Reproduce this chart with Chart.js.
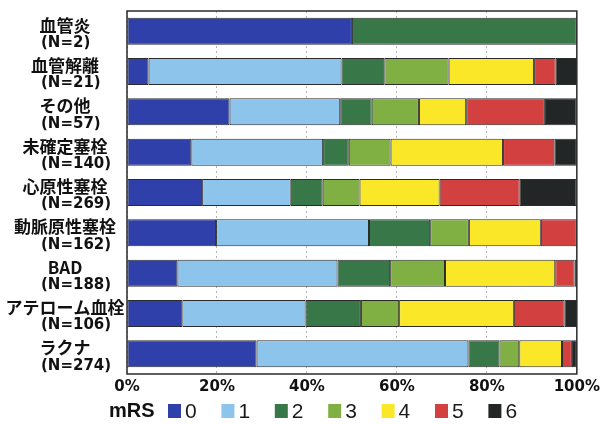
<!DOCTYPE html>
<html lang="ja">
<head>
<meta charset="utf-8">
<title>mRS 分布（病型別）</title>
<script src="https://cdn.jsdelivr.net/npm/chart.js@4/dist/chart.umd.min.js"></script>
<style>
  html, body { margin: 0; padding: 0; background: #ffffff; }
  #wrap { width: 604px; height: 424px; }
</style>
</head>
<body>
<div id="wrap"><canvas id="chart" width="604" height="424"></canvas></div>
<script>
// 病型（上から順に）
const categories = ['血管炎', '血管解離', 'その他', '未確定塞栓', '心原性塞栓', '動脈原性塞栓', 'BAD', 'アテローム血栓', 'ラクナ'];
const counts = [2, 21, 57, 140, 269, 162, 188, 106, 274];

// mRS 別の割合（%）
const mrs0 = [50.0,  4.8, 22.8, 14.3, 16.7, 19.8, 11.2, 12.3, 28.8];
const mrs1 = [ 0.0, 42.9, 24.6, 29.3, 19.7, 34.0, 35.6, 27.4, 47.1];
const mrs2 = [50.0,  9.5,  7.0,  5.7,  7.1, 13.6, 11.7, 12.3,  6.9];
const mrs3 = [ 0.0, 14.3, 10.5,  9.3,  8.2,  8.6, 12.2,  8.5,  4.4];
const mrs4 = [ 0.0, 19.0, 10.5, 25.0, 17.8, 16.0, 24.5, 25.5,  9.5];
const mrs5 = [ 0.0,  4.8, 17.5, 11.4, 17.8,  8.0,  4.3, 11.3,  2.2];
const mrs6 = [ 0.0,  4.8,  7.0,  5.0, 12.6,  0.0,  0.5,  2.8,  1.1];

const mrsLabels = ['0', '1', '2', '3', '4', '5', '6'];
const xTicks = [0, 20, 40, 60, 80, 100];

const colors = ['#2F40AB', '#8CC4EC', '#387848', '#80B044', '#FAE828', '#D24040', '#232626'];
const series = [mrs0, mrs1, mrs2, mrs3, mrs4, mrs5, mrs6];

const datasets = series.map((values, i) => ({
  label: mrsLabels[i],
  data: values,
  backgroundColor: colors[i],
  borderColor: '#2b2b2b',
  borderWidth: 1,
  borderSkipped: false,
  categoryPercentage: 1.0,
  barPercentage: 0.67
}));

const CJK = '"Noto Sans CJK JP", "Noto Sans", sans-serif';
const LATIN_BOLD = '"DejaVu Sans", Verdana, sans-serif';

// white page background
const pageBackground = {
  id: 'pageBackground',
  beforeDraw(chart) {
    const ctx = chart.ctx;
    ctx.save();
    ctx.fillStyle = '#ffffff';
    ctx.fillRect(0, 0, chart.width, chart.height);
    ctx.restore();
  }
};

// frame round the plot area
const plotFrame = {
  id: 'plotFrame',
  afterDatasetsDraw(chart) {
    const a = chart.chartArea;
    const ctx = chart.ctx;
    ctx.save();
    ctx.strokeStyle = '#2a2a2a';
    ctx.lineWidth = 1.5;
    ctx.strokeRect(a.left, a.top, a.right - a.left, a.bottom - a.top);
    ctx.restore();
  }
};

// two-line category labels: name centred, "(N=...)" below
const categoryLabels = {
  id: 'categoryLabels',
  afterDraw(chart) {
    const y = chart.scales.y;
    const ctx = chart.ctx;
    ctx.save();
    ctx.fillStyle = '#111111';
    ctx.textBaseline = 'middle';
    categories.forEach((name, i) => {
      const cy = y.getPixelForValue(i);
      ctx.font = 'bold 17px ' + CJK;
      ctx.textAlign = 'center';
      ctx.fillText(name, 65, cy - 6);
      ctx.font = 'bold 15px ' + LATIN_BOLD;
      ctx.textAlign = 'left';
      ctx.fillText('(N=' + counts[i] + ')', 41, cy + 12);
    });
    ctx.restore();
  }
};

// legend row: "mRS" followed by the seven swatches
const mrsLegend = {
  id: 'mrsLegend',
  afterDraw(chart) {
    const ctx = chart.ctx;
    const rowY = 411;
    ctx.save();
    ctx.textBaseline = 'middle';
    ctx.fillStyle = '#111111';
    ctx.font = 'bold 20px "Liberation Sans", Arial, sans-serif';
    ctx.textAlign = 'left';
    ctx.fillText('mRS', 109, rowY);
    ctx.font = '21px "Liberation Sans", Arial, sans-serif';
    chart.data.datasets.forEach((ds, i) => {
      const x = 168 + i * 53.4;
      ctx.fillStyle = ds.backgroundColor;
      ctx.fillRect(x, rowY - 7, 13, 14);
      ctx.fillStyle = '#1a1a1a';
      ctx.fillText(ds.label, x + 17, rowY + 1);
    });
    ctx.restore();
  }
};

new Chart(document.getElementById('chart'), {
  type: 'bar',
  data: { labels: categories, datasets },
  options: {
    indexAxis: 'y',
    responsive: false,
    animation: false,
    devicePixelRatio: 1,
    layout: { padding: { left: 127, right: 26, top: 11, bottom: 24 } },
    plugins: {
      legend: { display: false },
      tooltip: { enabled: false }
    },
    scales: {
      x: {
        stacked: true,
        min: 0,
        max: 100,
        afterBuildTicks(scale) { scale.ticks = xTicks.map(v => ({ value: v })); },
        ticks: {
          callback: v => v + '%',
          color: '#111111',
          font: { family: LATIN_BOLD, size: 15, weight: 'bold' },
          padding: 4,
          maxRotation: 0
        },
        grid: { color: '#b4b4b4', lineWidth: 1, drawTicks: false },
        border: { display: false, dash: [2, 3] }
      },
      y: {
        stacked: true,
        display: false
      }
    }
  },
  plugins: [pageBackground, plotFrame, categoryLabels, mrsLegend]
});
</script>
</body>
</html>
